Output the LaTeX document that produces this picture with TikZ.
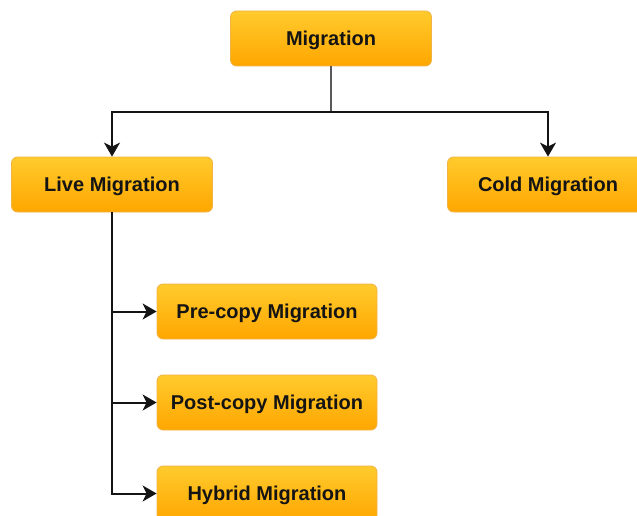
\documentclass[tikz,border=0pt]{standalone}
\usepackage{fontspec}
\setmainfont{Liberation Sans}
\usetikzlibrary{arrows.meta,shadings}
\definecolor{boxtop}{RGB}{255,203,45}
\definecolor{boxbot}{RGB}{255,166,0}
\definecolor{boxline}{RGB}{240,180,70}
\definecolor{linec}{RGB}{20,20,20}
\definecolor{txt}{RGB}{20,20,20}
\tikzset{
  box/.style={draw=boxline, line width=0.8pt, rounded corners=6pt,
    top color=boxtop, bottom color=boxbot, minimum height=55pt,
    inner sep=0pt, text height=14.4pt, text depth=0pt,
    font=\fontsize{20}{22}\selectfont\bfseries, text=txt},
  wbox/.style={box, minimum width=201pt},
  lbox/.style={box, minimum width=220pt},
  conn/.style={draw=linec, line width=2pt},
  arr/.style={conn, -{Stealth[length=14pt,width=16pt,inset=4pt]}}
}
\begin{document}
\begin{tikzpicture}[x=1pt,y=-1pt]
\useasboundingbox (0,0) rectangle (637,516);
\clip (0,0) rectangle (637,516);
\fill[white] (0,0) rectangle (637,516);
\node[wbox] (mig) at (331,38.5) {Migration};
\node[wbox] (live) at (112,184.5) {Live Migration};
\node[wbox] (cold) at (548,184.5) {Cold Migration};
\node[lbox] (pre) at (267,311.5) {Pre-copy Migration};
\node[lbox] (post) at (267,402.5) {Post-copy Migration};
\node[lbox] (hyb) at (267,493.5) {Hybrid Migration};
\coordinate (split) at (331,112);
\draw[conn, draw=black!65] (mig.south) -- (split);
\draw[arr] (split) -| (live.north);
\draw[arr] (split) -| (cold.north);
\draw[arr] (live.south) |- (hyb.west);
\draw[arr] (live.south |- pre.west) -- (pre.west);
\draw[arr] (live.south |- post.west) -- (post.west);
\end{tikzpicture}
\end{document}
